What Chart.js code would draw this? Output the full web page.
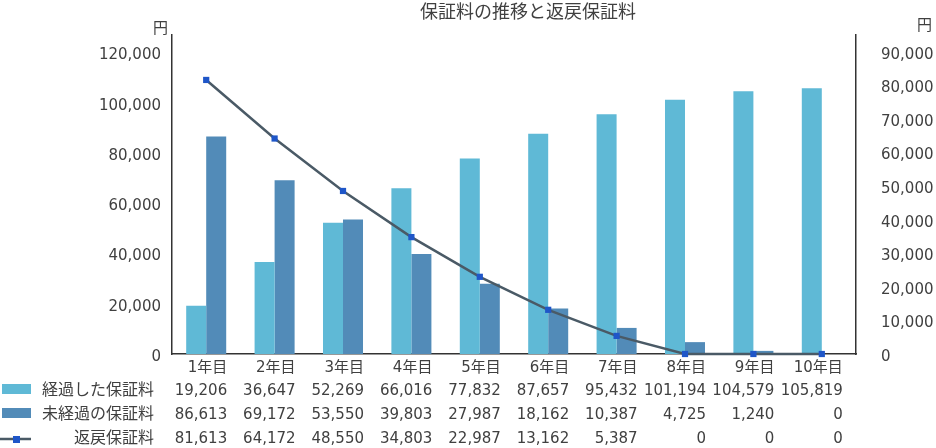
<!DOCTYPE html>
<html><head><meta charset="utf-8">
<script src="https://cdn.jsdelivr.net/npm/chart.js@4.4.1/dist/chart.umd.min.js"></script>
<style>html,body{margin:0;padding:0;background:#fff}#wrap{width:936px;height:448px}</style>
</head><body><div id="wrap"><canvas id="c" width="936" height="448"></canvas></div>
<script>
const categories = ['1年目','2年目','3年目','4年目','5年目','6年目','7年目','8年目','9年目','10年目'];
const elapsed = [19206,36647,52269,66016,77832,87657,95432,101194,104579,105819];
const unelapsed = [86613,69172,53550,39803,27987,18162,10387,4725,1240,0];
const refund = [81613,64172,48550,34803,22987,13162,5387,0,0,0];
const seriesNames = ['経過した保証料','未経過の保証料','返戻保証料'];
const leftTicks = [0,20000,40000,60000,80000,100000,120000];
const rightTicks = [0,10000,20000,30000,40000,50000,60000,70000,80000,90000];
const titleText = '保証料の推移と返戻保証料';
const unitText = '円';

const FONT = '"DejaVu Sans", "Noto Sans CJK JP", sans-serif';
const TXT = '#404040';
const C1 = '#5FB9D6', C2 = '#528BB8', CL = '#4A5A66', CM = '#1F56C8';
const fmt = v => v.toLocaleString('en-US');

const tablePlugin = {
  id: 'tbl',
  afterDraw(chart) {
    const ctx = chart.ctx, x = chart.scales.x;
    ctx.save();
    ctx.fillStyle = TXT;
    ctx.textBaseline = 'middle';
    ctx.font = '18px ' + FONT;
    ctx.textAlign = 'center';
    ctx.fillText(titleText, 528, 13);
    ctx.font = '15px ' + FONT;
    ctx.textAlign = 'right';
    ctx.fillText(unitText, 168, 29);
    ctx.textAlign = 'left';
    ctx.fillText(unitText, 917, 26);
    const rows = [elapsed, unelapsed, refund];
    const ys = [391, 415, 439];
    rows.forEach((arr, r) => {
      ctx.textAlign = 'right';
      ctx.fillStyle = TXT;
      ctx.font = '16px ' + FONT;
      ctx.fillText(seriesNames[r], 154, ys[r]);
      ctx.font = '15px ' + FONT;
      arr.forEach((v, i) => {
        ctx.fillText(fmt(v), x.getPixelForValue(i) + 21, ys[r]);
      });
    });
    ctx.fillStyle = C1; ctx.fillRect(2, ys[0] - 7, 29, 10);
    ctx.fillStyle = C2; ctx.fillRect(2, ys[1] - 7, 29, 10);
    ctx.strokeStyle = CL; ctx.lineWidth = 2.5;
    ctx.beginPath(); ctx.moveTo(0, ys[2]); ctx.lineTo(31, ys[2]); ctx.stroke();
    ctx.fillStyle = CM; ctx.fillRect(13, ys[2] - 3, 7, 7);
    ctx.restore();
  }
};

new Chart(document.getElementById('c'), {
  data: {
    labels: categories,
    datasets: [
      { type: 'line', label: seriesNames[2], data: refund, yAxisID: 'y2', borderColor: CL, borderWidth: 2.5,
        pointStyle: 'rect', pointRadius: 4.4, pointBackgroundColor: CM, pointBorderWidth: 0, tension: 0, clip: false, order: 0 },
      { type: 'bar', label: seriesNames[0], data: elapsed, yAxisID: 'y', backgroundColor: C1, categoryPercentage: 0.585, barPercentage: 1, order: 1 },
      { type: 'bar', label: seriesNames[1], data: unelapsed, yAxisID: 'y', backgroundColor: C2, categoryPercentage: 0.585, barPercentage: 1, order: 1 }
    ]
  },
  options: {
    responsive: false, animation: false, devicePixelRatio: 1,
    layout: { padding: { top: 35, left: 0, right: 0, bottom: 0 } },
    plugins: { legend: { display: false }, title: { display: false }, tooltip: { enabled: false } },
    scales: {
      x: {
        grid: { display: false, drawTicks: false },
        border: { display: true, color: '#333', width: 1.5 },
        ticks: { color: TXT, font: { family: FONT, size: 15 }, align: 'end', labelOffset: 21, padding: 5, maxRotation: 0, autoSkip: false },
        afterFit(s) { s.height = 94; }
      },
      y: {
        position: 'left', min: 0, max: 127000,
        grid: { display: false, drawTicks: false },
        border: { display: true, color: '#333', width: 1.5 },
        ticks: { autoSkip: false, color: TXT, font: { family: FONT, size: 15 }, padding: 11, labelOffset: 3, callback: v => fmt(v) },
        afterBuildTicks(s) { s.ticks = leftTicks.map(v => ({ value: v })); },
        afterFit(s) { s.width = 172; }
      },
      y2: {
        position: 'right', min: 0, max: 95000,
        grid: { display: false, drawTicks: false },
        border: { display: true, color: '#333', width: 1.5 },
        ticks: { autoSkip: false, color: TXT, font: { family: FONT, size: 15 }, padding: 25, labelOffset: 3, callback: v => fmt(v) },
        afterBuildTicks(s) { s.ticks = rightTicks.map(v => ({ value: v })); },
        afterFit(s) { s.width = 80; }
      }
    }
  },
  plugins: [tablePlugin]
});
</script></body></html>
